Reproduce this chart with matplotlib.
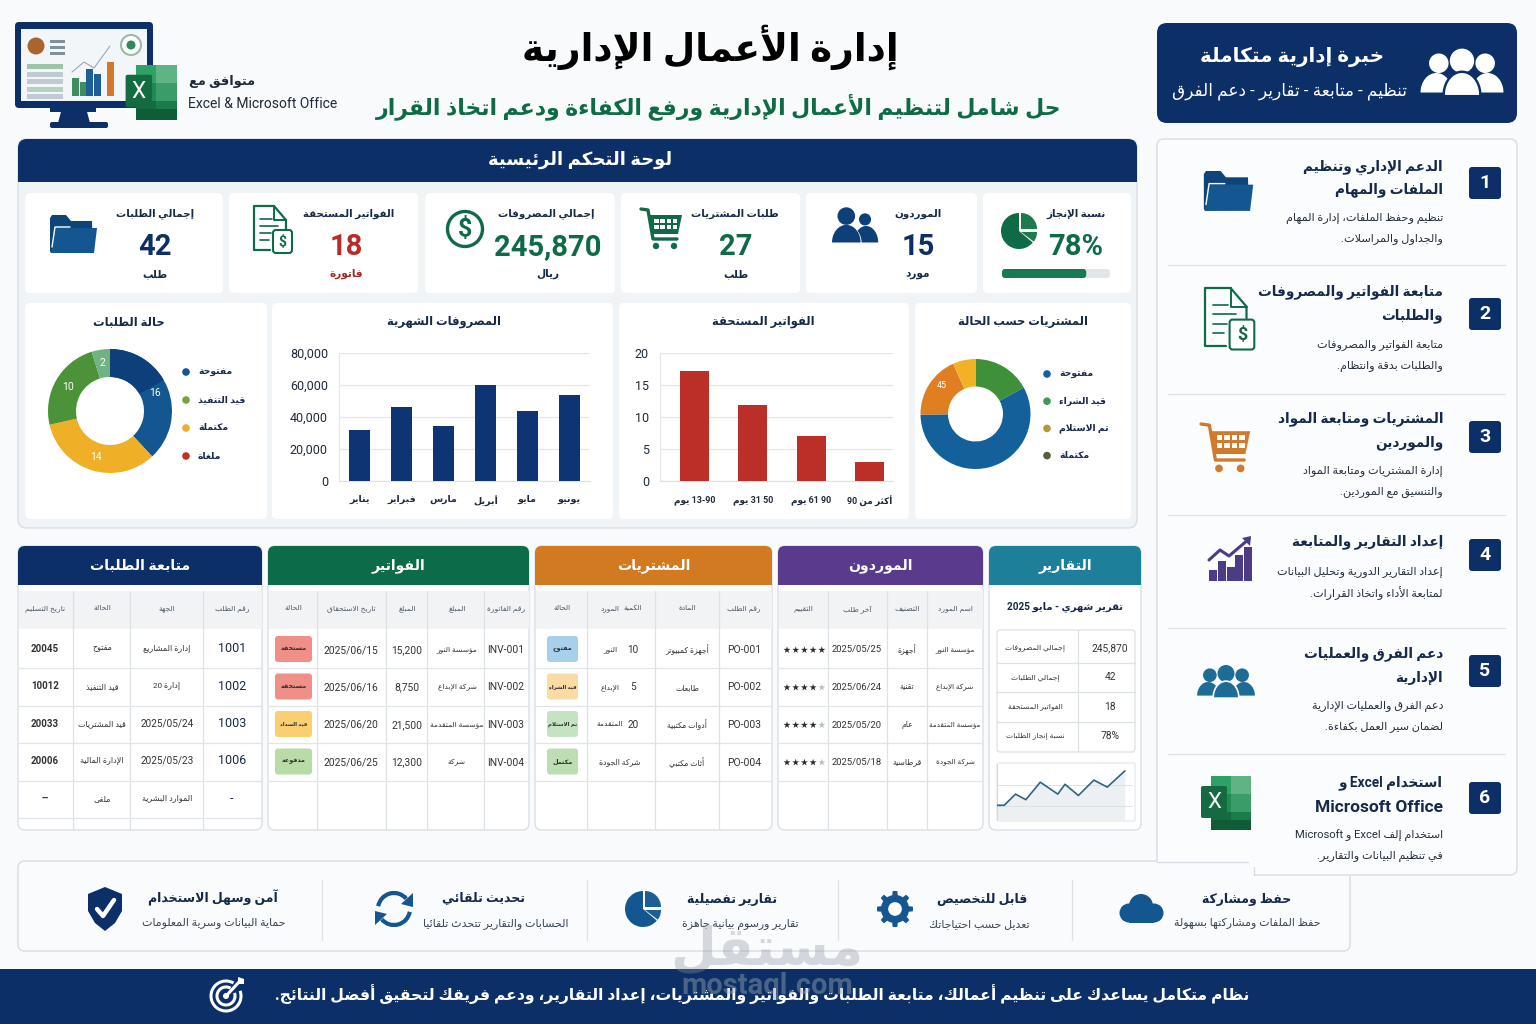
import re
import numpy as np
import matplotlib
matplotlib.use('Agg')
import matplotlib.pyplot as plt
from matplotlib.patches import FancyBboxPatch, Rectangle, Circle, Polygon, Wedge, Arc
from matplotlib.ticker import FuncFormatter

plt.rcParams['font.family'] = ['Roboto', 'DejaVu Sans']

# ---------- data ----------
months = ['يناير', 'فبراير', 'مارس', 'أبريل', 'مايو', 'يونيو']
monthly_expenses = [32000, 46000, 34500, 60000, 44000, 54000]
expense_ticks = [0, 20000, 40000, 60000, 80000]
aging_labels = ['13-90 يوم', '31 50 يوم', '61 90 يوم', 'أكثر من 90']
aging_values = [17.2, 11.8, 7, 3]
aging_ticks = [0, 5, 10, 15, 20]
order_status_labels = ['مفتوحة', 'قيد التنفيذ', 'مكتملة', 'ملغاة']
order_status_values = [16, 14, 10, 2]
order_status_text = ['16', '14', '10', '2']
purchase_labels = ['مفتوحة', 'قيد الشراء', 'تم الاستلام', 'مكتملة']
purchase_values = [4.6, 15.6, 5.0, 1.8]
kpi_titles = ['إجمالي الطلبات', 'الفواتير المستحقة', 'إجمالي المصروفات', 'طلبات المشتريات', 'الموردون', 'نسبة الإنجاز']
kpi_values = ['42', '18', '245,870', '27', '15', '78%']
kpi_units = ['طلب', 'فاتورة', 'ريال', 'طلب', 'مورد', '']
completion = 78

orders_head = ['رقم الطلب', 'الجهة', 'الحالة', 'تاريخ التسليم']
orders_rows = [['1001', 'إدارة المشاريع', 'مفتوح', '20045'],
               ['1002', 'إدارة 20', 'قيد التنفيذ', '10012'],
               ['1003', '2025/05/24', 'قيد المشتريات', '20033'],
               ['1006', '2025/05/23', 'الإدارة المالية', '20006'],
               ['-', 'الموارد البشرية', 'ملغى', '--']]
inv_head = ['رقم الفاتورة', 'المبلغ', 'المبلغ', 'تاريخ الاستحقاق', 'الحالة']
inv_rows = [['INV-001', 'مؤسسة النور', '15,200', '2025/06/15', 'مستحقة'],
            ['INV-002', 'شركة الإبداع', '8,750', '2025/06/16', 'مستحقة'],
            ['INV-003', 'مؤسسة المتقدمة', '21,500', '2025/06/20', 'قيد السداد'],
            ['INV-004', 'شركة', '12,300', '2025/06/25', 'مدفوعة']]
po_head = ['رقم الطلب', 'المادة', 'الكمية', 'المورد', 'الحالة']
po_rows = [['PO-001', 'أجهزة كمبيوتر', '10', 'النور', 'مفتوح'],
           ['PO-002', 'طابعات', '5', 'الإبداع', 'قيد الشراء'],
           ['PO-003', 'أدوات مكتبية', '20', 'المتقدمة', 'تم الاستلام'],
           ['PO-004', 'أثاث مكتبي', '', 'شركة الجودة', 'مكتمل']]
sup_head = ['اسم المورد', 'التصنيف', 'آخر طلب', 'التقييم']
sup_rows = [['مؤسسة النور', 'أجهزة', '2025/05/25'],
            ['شركة الإبداع', 'تقنية', '2025/06/24'],
            ['مؤسسة المتقدمة', 'عام', '2025/05/20'],
            ['شركة الجودة', 'قرطاسية', '2025/05/18']]
sup_rating = [5, 4, 4, 4]
rep_labels = ['إجمالي المصروفات', 'إجمالي الطلبات', 'الفواتير المستحقة', 'نسبة إنجاز الطلبات']
rep_values = ['245,870', '42', '18', '78%']
trend_x = [0, 7, 18, 28, 42, 59, 66, 79, 94, 107, 124]
trend_y = [21, 21, 37, 29, 54, 37, 51, 35, 57, 47, 70]

services = [(['الدعم الإداري وتنظيم', 'الملفات والمهام'], ['تنظيم وحفظ الملفات، إدارة المهام', 'والجداول والمراسلات.']),
            (['متابعة الفواتير والمصروفات', 'والطلبات'], ['متابعة الفواتير والمصروفات', 'والطلبات بدقة وانتظام.']),
            (['المشتريات ومتابعة المواد', 'والموردين'], ['إدارة المشتريات ومتابعة المواد', 'والتنسيق مع الموردين.']),
            (['إعداد التقارير والمتابعة'], ['إعداد التقارير الدورية وتحليل البيانات', 'لمتابعة الأداء واتخاذ القرارات.']),
            (['دعم الفرق والعمليات', 'الإدارية'], ['دعم الفرق والعمليات الإدارية', 'لضمان سير العمل بكفاءة.']),
            (['استخدام Excel و', 'Microsoft Office'], ['استخدام إلف Excel و Microsoft', 'في تنظيم البيانات والتقارير.'])]
features = [('حفظ ومشاركة', 'حفظ الملفات ومشاركتها بسهولة'),
            ('قابل للتخصيص', 'تعديل حسب احتياجاتك'),
            ('تقارير تفصيلية', 'تقارير ورسوم بيانية جاهزة'),
            ('تحديث تلقائي', 'الحسابات والتقارير تتحدث تلقائيا'),
            ('آمن وسهل الاستخدام', 'حماية البيانات وسرية المعلومات')]

# ---------- Arabic shaping ----------
_seq = [('ء', 1), ('آ', 2), ('أ', 2), ('ؤ', 2), ('إ', 2), ('ئ', 4), ('ا', 2), ('ب', 4), ('ة', 2), ('ت', 4), ('ث', 4),
        ('ج', 4), ('ح', 4), ('خ', 4), ('د', 2), ('ذ', 2), ('ر', 2), ('ز', 2), ('س', 4), ('ش', 4), ('ص', 4), ('ض', 4),
        ('ط', 4), ('ظ', 4), ('ع', 4), ('غ', 4), ('ف', 4), ('ق', 4), ('ك', 4), ('ل', 4), ('م', 4), ('ن', 4), ('ه', 4),
        ('و', 2), ('ى', 2), ('ي', 4)]
_forms = {}
_cp = 0xFE80
for _c, _n in _seq:
    _forms[_c] = (_cp, _n)
    _cp += _n
_lam = {'آ': 0xFEF5, 'أ': 0xFEF7, 'إ': 0xFEF9, 'ا': 0xFEFB}


def _shape(run):
    out = []
    i = 0
    n = len(run)
    prev_joins = False
    while i < n:
        c = run[i]
        if c not in _forms:
            out.append(c)
            prev_joins = False
            i += 1
            continue
        if c == 'ل' and i + 1 < n and run[i + 1] in _lam:
            out.append(chr(_lam[run[i + 1]] + (1 if prev_joins else 0)))
            prev_joins = False
            i += 2
            continue
        base, cnt = _forms[c]
        nxt = i + 1 < n and run[i + 1] in _forms
        if cnt == 4:
            idx = (3 if nxt else 1) if prev_joins else (2 if nxt else 0)
            prev_joins = True
        elif cnt == 2:
            idx = 1 if prev_joins else 0
            prev_joins = False
        else:
            idx = 0
            prev_joins = False
        out.append(chr(base + idx))
        i += 1
    return ''.join(out)


_ltr = re.compile(r'([A-Za-z0-9%][A-Za-z0-9%,./&\- ]*[A-Za-z0-9%]|[A-Za-z0-9%])')


def ar(s):
    if not any(ch in _forms for ch in s):
        return s
    parts = _ltr.split(s)
    res = []
    for k, p in enumerate(parts):
        res.append(p if k % 2 else _shape(p)[::-1])
    return ''.join(res[::-1])


# ---------- page ----------
W, H = 1536, 1024
BG = '#F8FAFC'
NAVY = '#0B2F66'
INK = '#15294B'
GREEN = '#0E6B45'
BLUE = '#14568F'
fig = plt.figure(figsize=(W / 100, H / 100), dpi=100, facecolor=BG)
pg = fig.add_axes([0, 0, 1, 1])
pg.set_xlim(0, W)
pg.set_ylim(H, 0)
pg.axis('off')


def T(x, y, s, size=8, color=INK, weight='normal', ha='center', alpha=None, z=6):
    return pg.text(x, y, ar(s), fontsize=size, color=color, fontweight=weight, ha=ha, va='center', alpha=alpha, zorder=z)


def rr(x0, y0, x1, y1, r=6, fc='white', ec='none', lw=0.8, z=2):
    p = FancyBboxPatch((x0, y0), x1 - x0, y1 - y0, boxstyle=f'round,pad=0,rounding_size={r}', fc=fc, ec=ec, lw=lw, zorder=z)
    pg.add_patch(p)
    return p


def rc(x0, y0, x1, y1, fc='white', ec='none', lw=0.8, z=2):
    pg.add_patch(Rectangle((x0, y0), x1 - x0, y1 - y0, fc=fc, ec=ec, lw=lw, zorder=z))


def ln(xs, ys, c='#D8DEE5', lw=0.8, z=3):
    pg.plot(xs, ys, color=c, lw=lw, zorder=z, solid_capstyle='round', solid_joinstyle='round')


def poly(pts, fc, ec='none', lw=0.8, z=5):
    pg.add_patch(Polygon(pts, closed=True, fc=fc, ec=ec, lw=lw, zorder=z))


def circ(x, y, r, fc, ec='none', lw=0.8, z=5):
    pg.add_patch(Circle((x, y), r, fc=fc, ec=ec, lw=lw, zorder=z))


def dome(cx, base, a, b, fc, z=5):
    t = np.linspace(0, np.pi, 40)
    poly(np.c_[cx + a * np.cos(t), base - b * np.sin(t)], fc, z=z)


# ---------- icons ----------
def ic_folder(cx, cy, s=1.0, col=BLUE):
    x, y = cx - 23 * s, cy - 20 * s
    poly([(x, y + 3 * s), (x + 2 * s, y), (x + 16 * s, y), (x + 21 * s, y + 6 * s), (x + 42 * s, y + 6 * s), (x + 43 * s, y + 36 * s), (x + 1 * s, y + 38 * s), (x, y + 36 * s)], '#0E4478')
    poly([(x + 5 * s, y + 13 * s), (x + 47 * s, y + 13 * s), (x + 44 * s, y + 38 * s), (x + 1 * s, y + 38 * s)], col)
    ln([x + 2 * s, x + 5 * s, x + 20 * s], [y + 32 * s, y + 12 * s, y + 12 * s], c='white', lw=1, z=6)


def ic_doc(cx, cy, s=1.0, col=GREEN):
    x, y = cx - 17 * s, cy - 22 * s
    ln([x + 20 * s, x, x, x + 16 * s], [y, y, y + 44 * s, y + 44 * s], c=col, lw=1.6, z=5)
    ln([x + 20 * s, x + 32 * s, x + 32 * s], [y, y + 14 * s, y + 23 * s], c=col, lw=1.6, z=5)
    ln([x + 20 * s, x + 20 * s, x + 32 * s], [y, y + 14 * s, y + 14 * s], c=col, lw=1.4, z=5)
    for dy, ww in ((13, 12), (20, 18), (27, 11), (34, 9)):
        ln([x + 6 * s, x + (6 + ww) * s], [y + dy * s, y + dy * s], c=col, lw=1.2, z=5)
    rr(x + 19 * s, y + 24 * s, x + 38 * s, y + 47 * s, r=3, fc='white', ec=col, lw=1.5, z=6)
    pg.text(x + 28.5 * s, y + 35.5 * s, '\\$', fontsize=10 * s, color=col, fontweight='bold', ha='center', va='center', zorder=7)


def ic_cart(cx, cy, s=1.0, col=GREEN):
    x, y = cx - 20 * s, cy - 20 * s
    ln([x, x + 7 * s, x + 12 * s, x + 36 * s], [y, y + 1 * s, y + 30 * s, y + 30 * s], c=col, lw=2.4, z=5)
    poly([(x + 8 * s, y + 6 * s), (x + 41 * s, y + 6 * s), (x + 37 * s, y + 25 * s), (x + 11 * s, y + 25 * s)], col)
    for i in range(4):
        for j in range(2):
            rc(x + (13 + i * 6.3) * s, y + (9.5 + j * 6.5) * s, x + (17.5 + i * 6.3) * s, y + (13.5 + j * 6.5) * s, fc='white', z=6)
    circ(x + 15 * s, y + 37 * s, 3.2 * s, col)
    circ(x + 33 * s, y + 37 * s, 3.2 * s, col)


def ic_people2(cx, cy, s=1.0, col=BLUE):
    circ(cx - 7 * s, cy - 9 * s, 8 * s, col)
    circ(cx + 10 * s, cy - 6 * s, 5.5 * s, col)
    dome(cx + 11 * s, cy + 15 * s, 11 * s, 15 * s, col)
    dome(cx - 7 * s, cy + 16 * s, 14 * s, 17 * s, 'white', z=5)
    dome(cx - 7 * s, cy + 15 * s, 13 * s, 16 * s, col, z=6)


def ic_people3(cx, cy, s=1.0, col=BLUE, bg='white'):
    circ(cx - 19 * s, cy - 8 * s, 8 * s, col)
    circ(cx + 19 * s, cy - 8 * s, 8 * s, col)
    dome(cx - 21 * s, cy + 16 * s, 13 * s, 16 * s, col)
    dome(cx + 21 * s, cy + 16 * s, 13 * s, 16 * s, col)
    circ(cx, cy - 10 * s, 10 * s, col, z=6)
    dome(cx, cy + 18 * s, 16 * s, 20 * s, bg, z=6)
    dome(cx, cy + 18 * s, 14 * s, 18 * s, col, z=7)


def ic_pie(cx, cy, s=1.0, col=BLUE, col2=None):
    col2 = col2 or col
    pg.add_patch(Wedge((cx, cy), 18 * s, 40, 270, fc=col, zorder=5))
    pg.add_patch(Wedge((cx + 2 * s, cy - 2 * s), 16 * s, 270, 360, fc=col2, zorder=5))
    pg.add_patch(Wedge((cx + 2 * s, cy + 1 * s), 16 * s, 0, 37, fc=col2, zorder=5))


def ic_chart(cx, cy):
    col = '#4E3B86'
    for dx, h in ((-21, 11), (-12, 20), (-3, 14), (5, 26), (14, 34)):
        rc(cx + dx, cy + 19 - h, cx + dx + 7.5, cy + 19, fc=col, z=5)
    ln([cx - 21, cx - 10, cx - 1, cx + 19], [cy - 2, cy - 12, cy - 6, cy - 23], c=col, lw=2.2, z=6)
    poly([(cx + 21, cy - 26), (cx + 20, cy - 16), (cx + 12, cy - 24)], col, z=6)


def ic_excel(cx, cy, s=1.0):
    x, y = cx - 20 * s, cy - 23 * s
    greens = ['#2FA166', '#5FB384', '#1F8A52', '#3A9C68', '#146B41', '#1B7C4B']
    for i, c in enumerate(greens):
        rc(x + 10 * s + (i % 2) * 20 * s, y + (i // 2) * 18 * s, x + 30 * s + (i % 2) * 20 * s, y + 18 * s + (i // 2) * 18 * s, fc=c, z=5)
    rc(x + 10 * s, y + 44 * s, x + 50 * s, y + 54 * s, fc='#0F5C37', z=5)
    rr(x, y + 10 * s, x + 26 * s, y + 42 * s, r=2, fc='#146B41', z=6)
    pg.text(x + 13 * s, y + 26 * s, 'X', fontsize=16 * s, color='white', ha='center', va='center', zorder=7)


def ic_gear(cx, cy, r=18, col=BLUE):
    a = np.linspace(0, 2 * np.pi, 97)[:-1]
    rad = r * (0.78 + 0.22 * (np.cos(8 * a) > 0.1))
    poly(np.c_[cx + rad * np.cos(a), cy + rad * np.sin(a)], col)
    circ(cx, cy, r * 0.38, 'white', z=6)


def ic_cloud(cx, cy, col=BLUE):
    circ(cx, cy - 3, 12, col)
    circ(cx - 12, cy + 4, 9.5, col)
    circ(cx + 13, cy + 4, 9.5, col)
    rc(cx - 12, cy + 3, cx + 13, cy + 13.5, fc=col)


def ic_sync(cx, cy, col=BLUE):
    pg.add_patch(Arc((cx, cy), 32, 32, theta1=190, theta2=320, ec=col, lw=3, zorder=5))
    pg.add_patch(Arc((cx, cy), 32, 32, theta1=10, theta2=140, ec=col, lw=3, zorder=5))
    poly([(cx + 19, cy - 16), (cx + 19, cy - 2), (cx + 7, cy - 5)], col)
    poly([(cx - 19, cy + 16), (cx - 19, cy + 2), (cx - 7, cy + 5)], col)


def ic_shield(cx, cy, col=NAVY):
    poly([(cx, cy - 22), (cx + 17, cy - 15), (cx + 17, cy + 2), (cx + 10, cy + 14), (cx, cy + 22), (cx - 10, cy + 14), (cx - 17, cy + 2), (cx - 17, cy - 15)], col)
    ln([cx - 8, cx - 2, cx + 9], [cy, cy + 7, cy - 9], c='white', lw=3.2, z=6)


def ic_target(cx, cy):
    for r in (15, 9):
        pg.add_patch(Arc((cx, cy), 2 * r, 2 * r, theta1=-20, theta2=300, ec='white', lw=2.2, zorder=5))
    circ(cx, cy, 3, 'white')
    ln([cx, cx + 14], [cy, cy - 15], c='white', lw=2.2)
    poly([(cx + 12, cy - 12), (cx + 12, cy - 19), (cx + 18, cy - 17), (cx + 18, cy - 12)], 'white')


def ic_monitor():
    rr(15, 22, 153, 108, r=4, fc=NAVY, z=3)
    rc(21, 29, 147, 101, fc='#F3F6F9', z=4)
    rc(50, 108, 96, 112, fc=NAVY, z=3)
    poly([(62, 108), (86, 108), (90, 123), (58, 123)], NAVY, z=3)
    rr(50, 122, 108, 128, r=2, fc=NAVY, z=3)
    circ(36, 46, 8.5, '#A9652F', z=5)
    for i in range(3):
        rc(50, 40 + i * 6, 65, 43 + i * 6, fc='#7F8F9D', z=5)
    circ(131, 45, 10, 'white', ec='#9BB9A5', lw=1.5, z=5)
    circ(131, 45, 4.5, '#2F8A5C', z=6)
    for i, c in enumerate(['#9DC3AA', '#C1CAD2', '#C1CAD2', '#B6D1BF', '#C1CAD2']):
        rc(27, 64 + i * 7.5, 63, 69 + i * 7.5, fc=c, z=5)
    for dx, h, c in ((72, 18, '#3E8E5F'), (80, 14, '#3E8E5F'), (86, 27, '#1F5F98'), (94, 22, '#1F5F98'), (107, 34, '#D2762B')):
        rc(dx, 96 - h, dx + 6.5, 96, fc=c, z=5)
    ln([72, 84, 94, 110], [72, 62, 68, 46], c='#9AA8B5', lw=0.8, z=5)


# ---------- header ----------
ic_monitor()
ic_excel(146, 88, 1.02)
T(222, 82, 'متوافق مع', 9.3, '#1E2A3A', 'bold')
T(263, 104, 'Excel & Microsoft Office', 10, '#1E2A3A')
T(710, 47, 'إدارة الأعمال الإدارية', 27, 'black', 'bold')
T(719, 107, 'حل شامل لتنظيم الأعمال الإدارية ورفع الكفاءة ودعم اتخاذ القرار', 15.8, GREEN, 'bold')

# ---------- dashboard panel ----------
rr(18, 139, 1137, 528, r=9, fc='#F1F4F7', ec='#D9DFE6', lw=1, z=1)
rr(18, 139, 1137, 182, r=9, fc=NAVY, z=2)
rc(18, 165, 1137, 182, fc=NAVY, z=2)
T(580, 160, 'لوحة التحكم الرئيسية', 13, 'white', 'bold')

kpi_cards = [(25, 223, 155, 155), (229, 418, 349, 346), (425, 615, 546, 548), (621, 800, 735, 736), (806, 977, 918, 918), (983, 1131, 1076, 1076)]
kpi_colors = [NAVY, '#B92B27', GREEN, GREEN, NAVY, GREEN]
for i, (x0, x1, lx, vx) in enumerate(kpi_cards):
    rr(x0, 193, x1, 293, r=5, fc='white', z=2)
    T(lx, 214, kpi_titles[i], 7.4, INK, 'bold')
    T(vx, 247, kpi_values[i], 21, kpi_colors[i], 'bold')
    if kpi_units[i]:
        T(vx, 274, kpi_units[i], 7.6, '#A52622' if i == 1 else INK, 'bold')
ic_folder(73, 235, 1.0)
ic_doc(271, 228, 1.0)
circ(465, 229, 17.5, 'white', ec=GREEN, lw=2.4)
pg.text(465, 229, '\\$', fontsize=18, color=GREEN, fontweight='bold', ha='center', va='center', zorder=7)
ic_cart(661, 229, 1.0)
ic_people2(854, 226, 1.1, '#0E3F78')
ic_pie(1019, 231, 1.0, GREEN, '#1C7A4D')
rr(1002, 269, 1110, 278, r=3, fc='#E2E6EA', z=3)
rr(1002, 269, 1002 + 108 * completion / 100, 278, r=3, fc='#187A50', z=4)

# chart cards
for x0, x1 in ((25, 267), (272, 613), (619, 909), (915, 1131)):
    rr(x0, 303, x1, 519, r=5, fc='white', z=2)
T(129, 322, 'حالة الطلبات', 8.3, INK, 'bold')
T(444, 322, 'المصروفات الشهرية', 8.3, INK, 'bold')
T(763, 322, 'الفواتير المستحقة', 8.3, INK, 'bold')
T(1023, 322, 'المشتريات حسب الحالة', 8.3, INK, 'bold')


def sub_ax(x0, y0, x1, y1):
    a = fig.add_axes([x0 / W, 1 - y1 / H, (x1 - x0) / W, (y1 - y0) / H])
    a.patch.set_alpha(0)
    return a


def bars(x0, x1, vals, labels, ticks, ymax, color, width, xlim, fmt, xsize):
    a = sub_ax(x0, 353, x1, 481)
    a.bar(range(len(vals)), vals, width=width, color=color, zorder=3)
    a.set_xlim(*xlim)
    a.set_ylim(0, ymax)
    a.set_yticks(ticks)
    a.yaxis.set_major_formatter(FuncFormatter(fmt))
    a.set_xticks(range(len(vals)))
    a.set_xticklabels([ar(s) for s in labels], fontsize=xsize, color='#1E2A3A', fontweight='bold')
    a.tick_params(axis='y', length=0, pad=8, labelsize=9, labelcolor='#1E2A3A')
    a.tick_params(axis='x', length=0, pad=10)
    a.grid(axis='y', color='#E3E7EC', lw=0.9, zorder=0)
    for k in ('top', 'right'):
        a.spines[k].set_visible(False)
    a.spines['left'].set_color('#E3E7EC')
    a.spines['bottom'].set_color('#DDE2E8')
    return a


bars(339, 590, monthly_expenses, months, expense_ticks, 80000, '#0E3474', 0.5, (-0.5, 5.5),
     lambda v, p: f'{int(v):,}', 6.8)
bars(660, 893, aging_values, aging_labels, aging_ticks, 20, '#BC2F29', 0.5, (-0.59, 3.4),
     lambda v, p: f'{int(v)}', 6.4)


# donuts
def donut(cx, cy, r, hole, vals, colors):
    a = sub_ax(cx - r, cy - r, cx + r, cy + r)
    wedges, _ = a.pie(vals, colors=colors, startangle=90, counterclock=False, radius=1,
                      wedgeprops=dict(width=1 - hole / r, linewidth=0))
    a.set_xlim(-1, 1)
    a.set_ylim(-1, 1)
    return a, wedges


a1, w1 = donut(110, 411, 62, 34, order_status_values, ['#14568F', '#EFAF26', '#4C9238', '#6FB284'])
rad_mid = 0.775
cum = np.cumsum([0] + order_status_values)
for i, s in enumerate(order_status_text):
    ang = np.pi / 2 - 2 * np.pi * (cum[i] + cum[i + 1]) / 2 / sum(order_status_values)
    a1.text(rad_mid * np.cos(ang), rad_mid * np.sin(ang), s, color='white', fontsize=7.5, ha='center', va='center', zorder=5)
a1.add_patch(Wedge((0, 0), 1.0, 30, 90, width=1 - 34 / 62, fc='#0D3F7A', lw=0, zorder=3))

a2, w2 = donut(975.5, 414, 55, 27.5, purchase_values, ['#3F9139', '#14609A', '#E07F22', '#F2B127'])
a2.text(-0.62, 0.52, '45', color='white', fontsize=6.5, ha='center', va='center', zorder=5)

for i, (s, c) in enumerate(zip(order_status_labels, ['#14568F', '#79A33D', '#EFAF26', '#C1312A'])):
    y = 372 + i * 28
    circ(186, y, 3.8, c)
    T(198, y, s, 6.7, INK, 'bold', ha='left')
for i, (s, c) in enumerate(zip(purchase_labels, ['#14609A', '#3F9A5A', '#B8963A', '#555F3A'])):
    y = 374 + i * 27.2
    circ(1047, y, 3.8, c)
    T(1059, y, s, 6.7, INK, 'bold', ha='left')

# ---------- tables ----------
ROW_LINES = [668, 706, 743, 781]
HCOL = '#4C5866'


def table(x0, x1, title, col, dividers, bottom=830, extra_line=None):
    rr(x0, 546, x1, bottom, r=7, fc='white', ec='#D7DDE4', lw=0.9, z=2)
    rr(x0, 546, x1, 585, r=7, fc=col, z=3)
    rc(x0, 570, x1, 585, fc=col, z=3)
    T((x0 + x1) / 2, 566, title, 10.2, 'white', 'bold')
    if dividers is not None:
        rc(x0 + 0.5, 591, x1 - 0.5, 629, fc='#F1F3F5', z=3)
        for d in dividers:
            ln([d, d], [591, bottom - 1], c='#DDE2E7', lw=0.9, z=4)
        for y in ROW_LINES + (extra_line or []):
            ln([x0 + 0.5, x1 - 0.5], [y, y], c='#E1E5EA', lw=0.9, z=4)


def badge(x0, x1, y, fc, txt):
    rr(x0, y - 13, x1, y + 13, r=3, fc=fc, z=5)
    T((x0 + x1) / 2, y, txt, 4.6 if len(txt) <= 6 else 3.9, '#2B2B2B', 'bold', z=7)


table(18, 262, 'متابعة الطلبات', NAVY, [73, 130, 203], extra_line=[818])
t1x = [232, 167, 102, 45]
for j, h in enumerate(orders_head):
    T(t1x[j], 609, h, 5.4, HCOL)
for i, row in enumerate(orders_rows):
    y = 649 + i * 37.3
    T(t1x[0], y, row[0], 9, INK)
    T(t1x[1], y, row[1], 5.8 if not row[1][0].isdigit() else 7.2, '#333')
    T(t1x[2], y, row[2], 5.8, '#333')
    T(t1x[3], y, row[3], 7, '#333', 'bold')

table(268, 529, 'الفواتير', '#0C6B48', [317, 386, 427, 484])
t2x = [506, 457, 407, 351, 293]
for j, h in enumerate(inv_head):
    T(t2x[j], 609, h, 5.4, HCOL)
inv_colors = ['#EF8F88', '#EF8F88', '#F9CF72', '#B9DBA6']
for i, row in enumerate(inv_rows):
    y = 650 + i * 37.5
    for j in range(4):
        T(t2x[j], y, row[j], 5.4 if j == 1 else 7.4, '#333')
    badge(275, 312, y - 1, inv_colors[i], row[4])

table(535, 772, 'المشتريات', '#D27A22', [587, 655, 718.5])
t3x = [744, 687, 633, 610, 562]
for j, h in enumerate(po_head):
    T(t3x[j], 609, h, 5.2, HCOL)
po_colors = ['#A6D0EC', '#F9DBA4', '#C5E3C3', '#BDDDB5']
for i, row in enumerate(po_rows):
    y = 650 + i * 37.5
    T(t3x[0], y, row[0], 7.4, '#333')
    T(t3x[1], y, row[1], 5.6, '#333')
    if row[2]:
        T(t3x[2], y, row[2], 7.2, '#333')
        T(t3x[3], y, row[3], 5.4, '#333')
    else:
        T(620, y, row[3], 5.6, '#333')
    badge(547, 578, y - 1, po_colors[i], row[4])

table(778, 983, 'الموردون', '#5A3A8C', [828, 887, 927])
t4x = [955, 907, 857, 803]
for j, h in enumerate(sup_head):
    T(t4x[j], 609, h, 5.4, HCOL)
for i, row in enumerate(sup_rows):
    y = 650 + i * 37.5
    T(t4x[0], y, row[0], 5.2, '#333')
    T(t4x[1], y, row[1], 5.6, '#333')
    T(t4x[2], y, row[2], 6.8, '#333')
    sx = 787 + np.arange(5) * 8.7
    pg.scatter(sx, [y] * 5, marker='*', s=28, linewidths=0, zorder=6,
               c=['#2B2B2B' if k < sup_rating[i] else '#B9BEC4' for k in range(5)])

table(989, 1141, 'التقارير', '#1E7F9B', None)
T(1065, 607, 'تقرير شهري - مايو 2025', 7.2, INK, 'bold')
rr(997, 630, 1135, 752, r=3, fc='white', ec='#DDE2E7', lw=0.9, z=3)
ln([1078, 1078], [630, 752], c='#DDE2E7', lw=0.9, z=4)
for y in (663, 692, 722):
    ln([997, 1135], [y, y], c='#DDE2E7', lw=0.9, z=4)
for i, (s, v) in enumerate(zip(rep_labels, rep_values)):
    y = 648 + i * 29.3
    T(1035, y, s, 5.4, '#333')
    T(1110, y, v, 7.4, '#333')
rr(997, 763, 1135, 821, r=2, fc='white', ec='#E1E5EA', lw=0.8, z=3)
tr = sub_ax(997, 764, 1133, 820)
tr.fill_between(trend_x, trend_y, 0, color='#EDF0F3', lw=0, zorder=1)
tr.plot(trend_x, trend_y, color='#2F6482', lw=1.2, zorder=3)
tr.set_xlim(0, 132)
tr.set_ylim(0, 80)
tr.set_yticks([20, 50])
tr.set_xticks([])
tr.set_yticklabels([])
tr.grid(axis='y', color='#DDE2E7', lw=0.7, zorder=2)
tr.tick_params(length=0)
for sp in tr.spines.values():
    sp.set_visible(False)
tr.spines['left'].set_visible(True)
tr.spines['left'].set_color('#D3D9DF')

# ---------- bottom feature band ----------
rr(18, 861, 1350, 951, r=7, fc='#FAFBFC', ec='#D7DDE4', lw=1, z=1)
for d in (322, 587, 838, 1072):
    ln([d, d], [880, 940], c='#DDE2E7', lw=0.9, z=2)
feat_pos = [(1247, 899, 1247, 923), (982, 900, 979, 924), (732, 899, 740, 924), (483, 898, 496, 924), (213, 898, 214, 923)]
for (ti, sb), (tx, ty, sx, sy) in zip(features, feat_pos):
    T(tx, ty, ti, 9, INK, 'bold')
    T(sx, sy, sb, 7.9, '#3A4654')
ic_cloud(1141, 909)
ic_gear(895, 909)
ic_pie(643, 909, 1.0, BLUE, '#1C5F98')
ic_sync(394, 909)
ic_shield(105, 909)

# ---------- right column ----------
rr(1157, 23, 1517, 123, r=10, fc=NAVY, z=2)
T(1292, 57, 'خبرة إدارية متكاملة', 14.3, 'white', 'bold')
T(1290, 91, 'تنظيم - متابعة - تقارير - دعم الفرق', 12.2, 'white')
ic_people3(1462, 73, 1.22, 'white', NAVY)

rr(1157, 139, 1517, 875, r=7, fc='#FBFCFE', ec='#D7DDE4', lw=1, z=2)
rc(1140, 862, 1254, 880, fc='#FAFBFC', z=3)
ln([1157, 1248], [861.5, 861.5], c='#D7DDE4', lw=1, z=4)
ln([1254, 1254], [867, 875], c='#D7DDE4', lw=1, z=4)
for y in (265, 394, 515, 628, 754):
    ln([1168, 1505], [y, y], c='#DDE2E7', lw=0.9, z=3)
num_y = [183, 314, 437, 555, 671, 798]
title_y = [[167, 190], [292, 316], [419, 443], [542], [654, 678], [783, 808]]
desc_y = [[218, 239], [345, 367], [471, 492], [572, 593], [706, 727], [835, 856]]
for i, (ti, de) in enumerate(services):
    rr(1469, num_y[i] - 16, 1501, num_y[i] + 16, r=3, fc=NAVY, z=4)
    T(1485, num_y[i], str(i + 1), 14, 'white', 'bold', z=6)
    for s, y in zip(ti, title_y[i]):
        T(1443, y, s, 9.8 if any(ch in _forms for ch in s) else 12.5, INK, 'bold', ha='right')
    for s, y in zip(de, desc_y[i]):
        T(1443, y, s, 8.1, '#26303C', ha='right')
ic_folder(1228, 192, 1.05)
ic_doc(1227, 317, 1.3)
ic_cart(1225, 448, 1.2, '#D27A2C')
ic_chart(1230, 562)
ic_people3(1226, 682, 0.85, '#1E6C96', '#FBFCFE')
ic_excel(1221, 799, 1.0)

# ---------- footer ----------
rc(0, 969, W, 1024, fc='#0B2F66', z=1)
T(762, 994, 'نظام متكامل يساعدك على تنظيم أعمالك، متابعة الطلبات والفواتير والمشتريات، إعداد التقارير، ودعم فريقك لتحقيق أفضل النتائج.', 11.25, 'white', 'bold')
ic_target(226, 996)
T(767, 950, 'مستقل', 38, '#8E98A4', 'bold', alpha=0.35, z=8)
T(767, 986, 'mostaql.com', 21, '#9AA4B0', 'bold', alpha=0.45, z=8)

fig.savefig('out.png', dpi=100, facecolor=BG)
